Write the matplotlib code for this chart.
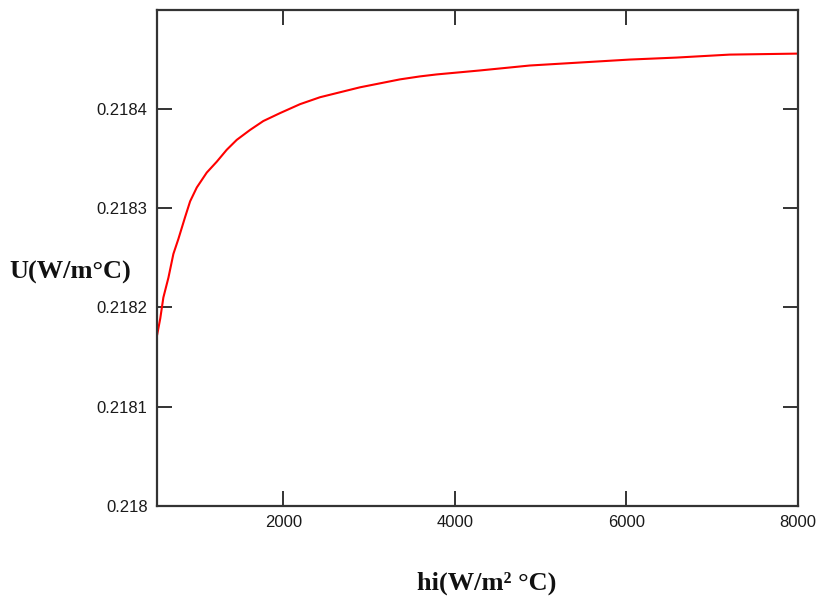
import matplotlib
matplotlib.use("Agg")
import matplotlib.pyplot as plt

# values
hi = [530, 565, 601, 660, 718, 776, 854, 913, 991, 1107, 1224, 1340, 1457,
      1612, 1767, 1962, 2195, 2428, 2661, 2894, 3127, 3360, 3593, 3788, 4292,
      4875, 5458, 6041, 6585, 7206, 8000]
U = [0.218173, 0.218189, 0.218210, 0.218230, 0.218254, 0.218269, 0.218291,
     0.218307, 0.218321, 0.218336, 0.218347, 0.218359, 0.218369, 0.218379,
     0.218388, 0.218396, 0.218405, 0.218412, 0.218417, 0.218422, 0.218426,
     0.218430, 0.218433, 0.218435, 0.218439, 0.218444, 0.218447, 0.218450,
     0.218452, 0.218455, 0.218456]

x_ticks = [2000, 4000, 6000, 8000]
y_ticks = [0.218, 0.2181, 0.2182, 0.2183, 0.2184]
y_tick_labels = ["0.218", "0.2181", "0.2182", "0.2183", "0.2184"]

fig = plt.figure(figsize=(8.2, 5.98), dpi=100, facecolor="white")
ax = fig.add_axes([0.1918, 0.1543, 0.7810, 0.8290])

ax.plot(hi, U, color="#ff0000", lw=1.5, solid_joinstyle="round")

ax.set_xlim(530, 8000)
ax.set_ylim(0.218, 0.2185)
ax.set_xticks(x_ticks)
ax.set_xticklabels([str(t) for t in x_ticks])
ax.set_yticks(y_ticks)
ax.set_yticklabels(y_tick_labels)

for s in ax.spines.values():
    s.set_color("#333333")
    s.set_linewidth(1.6)

ax.tick_params(direction="in", length=11, width=1.4, color="#333333",
               top=True, right=True, labelsize=12, pad=7,
               labelcolor="#1a1a1a")
for lab in ax.get_xticklabels() + ax.get_yticklabels():
    lab.set_family("Liberation Sans")

fig.text(0.012, 0.545, "U(W/m°C)", ha="left", va="center",
         family="Liberation Serif", weight="bold", fontsize=19, color="#111111")
fig.text(0.593, 0.024, "hi(W/m² °C)", ha="center", va="center",
         family="Liberation Serif", weight="bold", fontsize=19, color="#111111")

plt.savefig("out.png", dpi=100)
plt.close(fig)
